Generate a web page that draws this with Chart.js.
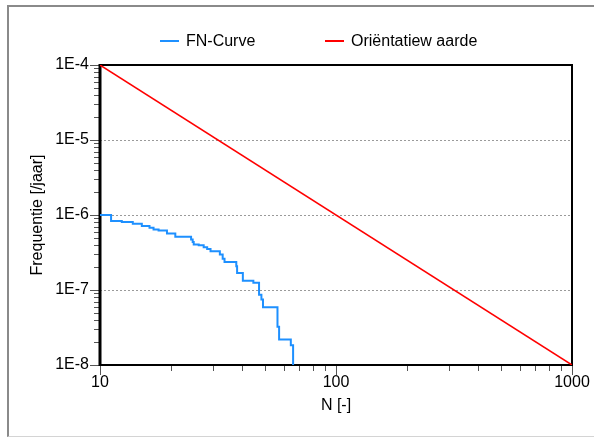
<!DOCTYPE html>
<html><head><meta charset="utf-8">
<script src="https://cdn.jsdelivr.net/npm/chart.js@4.4.0/dist/chart.umd.min.js"></script>
<style>
html,body{margin:0;padding:0;background:#fff;}
#wrap{position:relative;width:594px;height:438px;overflow:hidden;font-family:'Liberation Sans',Arial,sans-serif;}
#frame{position:absolute;left:7px;top:5px;width:600px;height:432px;border-left:2px solid #8a8a8a;border-top:2px solid #8a8a8a;border-bottom:1px solid #d4d4d4;box-sizing:border-box;}
canvas{position:absolute;left:0;top:0;}
#legend{position:absolute;top:31px;left:0;width:594px;height:20px;}
.item{position:absolute;top:0;height:20px;line-height:20px;display:flex;align-items:center;font-size:16px;color:#000;white-space:pre;}
.swatch{display:inline-block;width:19px;height:2px;margin-right:7px;}
</style></head><body>
<div id="wrap"><div id="frame"></div><canvas id="c" width="594" height="438"></canvas><div id="legend"></div></div>
<script>
// ---- data ----
const seriesLabels = ['FN-Curve', 'Oriëntatiew aarde'];
const fnN = [10, 11.14, 12.37, 13.77, 15.04, 16.21, 16.86, 17.71, 19.22, 20.85, 24.32, 24.7, 24.95, 26.2, 27.5, 28.45, 29.4, 32.2, 33.1, 33.7, 37.8, 38.1, 40.3, 44.65, 47.2, 48.3, 49.05, 56.5, 57.4, 64.35, 65.8];
const fnF = [1.0e-6, 8.3e-7, 8.05e-7, 7.64e-7, 7.12e-7, 6.75e-7, 6.43e-7, 6.23e-7, 5.68e-7, 5.11e-7, 4.72e-7, 4.38e-7, 4.04e-7, 3.96e-7, 3.72e-7, 3.53e-7, 3.29e-7, 2.97e-7, 2.62e-7, 2.36e-7, 2.07e-7, 1.68e-7, 1.33e-7, 1.25e-7, 8.63e-8, 7.46e-8, 5.88e-8, 3.24e-8, 2.19e-8, 1.84e-8, 1.0e-8];
const refN = [10, 1000];
const refF = [1e-4, 1e-8];
const xDecades = [10, 100, 1000];
const yDecades = [1e-8, 1e-7, 1e-6, 1e-5, 1e-4];
const xTitle = 'N [-]';
const yTitle = 'Frequentie [/jaar]';
const seriesColors = ['#1E90FF', '#FF0000'];

// ---- helpers ----
const isMajor = v => Math.abs(Math.log10(v) - Math.round(Math.log10(v))) < 1e-9;
function logTicks(decades) {
  const out = [];
  for (let i = 0; i < decades.length; i++) {
    const d = decades[i];
    out.push({value: d, major: true});
    if (i < decades.length - 1) for (let m = 2; m <= 9; m++) out.push({value: d * m, major: false});
  }
  return out;
}
const FONT = {family: "'Liberation Sans', Arial, sans-serif", size: 16};

const tickPlugin = {
  id: 'frameTicks',
  beforeDatasetsDraw(chart) {
    const {ctx, chartArea: a, scales} = chart;
    ctx.save();
    ctx.strokeStyle = '#555';
    ctx.lineWidth = 1;
    ctx.beginPath();
    scales.y.ticks.forEach(t => {
      const p = Math.round(scales.y.getPixelForValue(t.value)) + 0.5;
      const len = isMajor(t.value) ? 10 : 6;
      ctx.moveTo(a.left - len, p); ctx.lineTo(a.left, p);
    });
    scales.x.ticks.forEach(t => {
      const p = Math.round(scales.x.getPixelForValue(t.value)) + 0.5;
      const len = isMajor(t.value) ? 10 : 6;
      ctx.moveTo(p, a.bottom); ctx.lineTo(p, a.bottom + len);
    });
    ctx.stroke();
    ctx.strokeStyle = '#000';
    ctx.lineWidth = 2;
    ctx.strokeRect(Math.round(a.left), Math.round(a.top), Math.round(a.right - a.left), Math.round(a.bottom - a.top));
    ctx.lineWidth = 3;
    ctx.beginPath();
    ctx.moveTo(Math.round(a.left), a.top - 1); ctx.lineTo(Math.round(a.left), a.bottom + 1);
    ctx.stroke();
    ctx.restore();
  }
};

const chart = new Chart(document.getElementById('c'), {
  type: 'line',
  data: {
    datasets: [
      {label: seriesLabels[0], data: fnN.map((n, i) => ({x: n, y: fnF[i]})), borderColor: seriesColors[0], backgroundColor: seriesColors[0], borderWidth: 2, pointRadius: 0, stepped: 'before', fill: false},
      {label: seriesLabels[1], data: refN.map((n, i) => ({x: n, y: refF[i]})), borderColor: seriesColors[1], backgroundColor: seriesColors[1], borderWidth: 1.5, pointRadius: 0, fill: false}
    ]
  },
  options: {
    responsive: false,
    devicePixelRatio: 1,
    animation: false,
    layout: {padding: {left: 10, right: 22, top: 65, bottom: 10}},
    plugins: {legend: {display: false}, tooltip: {enabled: false}},
    scales: {
      x: {
        type: 'logarithmic', min: 10, max: 1000,
        afterBuildTicks: s => { s.ticks = logTicks(xDecades); },
        afterFit: s => { s.height = 63; s.paddingLeft = 0; s.paddingRight = 0; },
        grid: {display: false, drawTicks: false},
        border: {display: false},
        ticks: {autoSkip: false, maxRotation: 0, padding: 8, color: '#000', font: FONT,
          callback: v => isMajor(v) ? String(Math.round(v)) : ''},
        title: {display: true, text: xTitle, color: '#000', font: FONT, padding: {top: 0, bottom: 13}}
      },
      y: {
        type: 'logarithmic', min: 1e-8, max: 1e-4,
        afterBuildTicks: s => { s.ticks = logTicks(yDecades); },
        afterFit: s => { s.width = 90; s.paddingTop = 0; s.paddingBottom = 0; },
        grid: {drawTicks: false, lineWidth: 1, color: c => (c.tick && isMajor(c.tick.value)) ? '#9a9a9a' : 'rgba(0,0,0,0)'},
        border: {display: false, dash: [2, 2]},
        ticks: {autoSkip: false, padding: 11, color: '#000', font: FONT,
          callback: v => isMajor(v) ? '1E' + Math.round(Math.log10(v)) : ''},
        title: {display: true, text: yTitle, color: '#000', font: FONT, padding: {top: 18, bottom: 0}}
      }
    }
  },
  plugins: [tickPlugin]
});

// HTML legend built from the chart's datasets
const legendLefts = [160, 325];
const leg = document.getElementById('legend');
chart.data.datasets.forEach((ds, i) => {
  const it = document.createElement('div');
  it.className = 'item';
  it.style.left = legendLefts[i] + 'px';
  const sw = document.createElement('span');
  sw.className = 'swatch';
  sw.style.background = ds.borderColor;
  it.appendChild(sw);
  it.appendChild(document.createTextNode(ds.label));
  leg.appendChild(it);
});
</script>
</body></html>
